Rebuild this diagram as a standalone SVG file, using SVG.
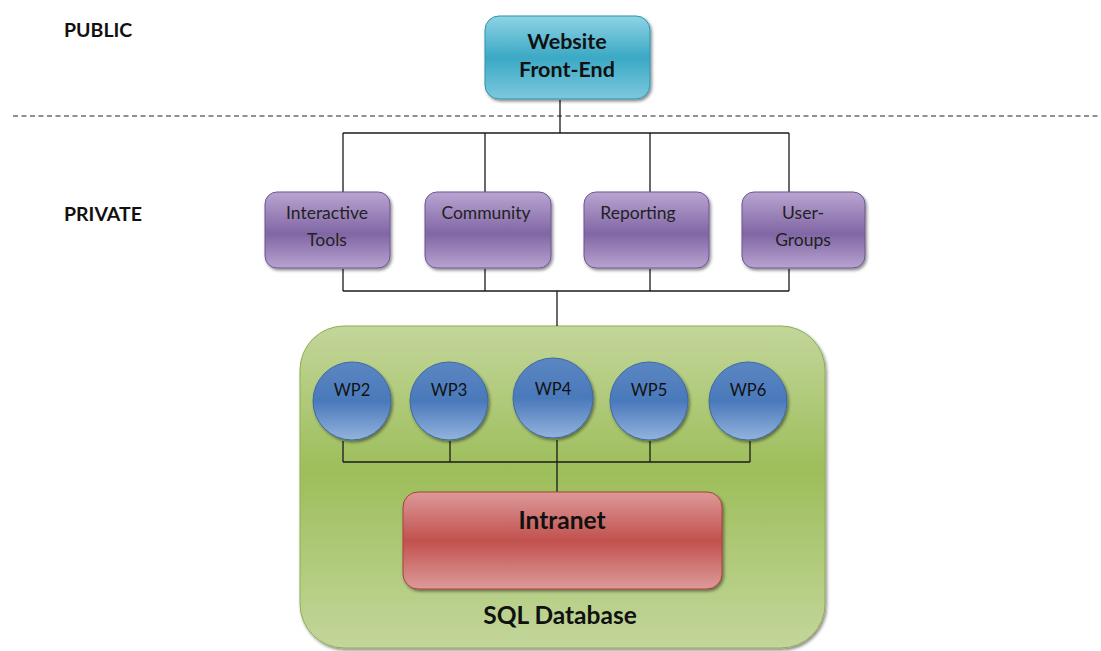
<svg xmlns="http://www.w3.org/2000/svg" width="1101" height="651" viewBox="0 0 1101 651">
  <defs>
    <linearGradient id="gCyan" x1="0" y1="0" x2="0" y2="1">
      <stop offset="0" stop-color="#8fd3e4"/>
      <stop offset="0.5" stop-color="#3ba9c5"/>
      <stop offset="1" stop-color="#7cc8dc"/>
    </linearGradient>
    <linearGradient id="gPurple" x1="0" y1="0" x2="0" y2="1">
      <stop offset="0" stop-color="#b9a5d1"/>
      <stop offset="0.55" stop-color="#8166a5"/>
      <stop offset="1" stop-color="#b7a3cf"/>
    </linearGradient>
    <linearGradient id="gBlue" x1="0" y1="0" x2="0" y2="1">
      <stop offset="0" stop-color="#5b86c2"/>
      <stop offset="0.5" stop-color="#4a79bb"/>
      <stop offset="1" stop-color="#93b3dd"/>
    </linearGradient>
    <linearGradient id="gRed" x1="0" y1="0" x2="0" y2="1">
      <stop offset="0" stop-color="#dc9a98"/>
      <stop offset="0.5" stop-color="#c2514e"/>
      <stop offset="1" stop-color="#dc9b99"/>
    </linearGradient>
    <linearGradient id="gGreen" x1="0" y1="0" x2="0" y2="1">
      <stop offset="0" stop-color="#c3d69b"/>
      <stop offset="0.45" stop-color="#9dbe5a"/>
      <stop offset="1" stop-color="#c3d69b"/>
    </linearGradient>
    <filter id="shadow" x="-10%" y="-10%" width="125%" height="130%">
      <feDropShadow dx="1.5" dy="2" stdDeviation="1.5" flood-color="#000" flood-opacity="0.45"/>
    </filter>
  </defs>
  <style>
    .lbl { font-family: Lato, "Open Sans", sans-serif; fill: #111; text-anchor: middle; }
    .zone { font-family: Lato, "Open Sans", sans-serif; font-weight: bold; font-size: 19.5px; fill: #111; }
    .box-p { font-size: 17.5px; fill: #222; }
    .wp { font-size: 16.5px; }
    .big { font-size: 24.5px; font-weight: bold; }
    .conn { stroke: #1a1a1a; stroke-width: 1.3; fill: none; }
  </style>

  <rect width="1101" height="651" fill="#ffffff"/>

  <!-- zone labels and boundary -->
  <text class="zone" x="64" y="37">PUBLIC</text>
  <text class="zone" x="64" y="221">PRIVATE</text>
  <line x1="13" y1="116" x2="1101" y2="116" stroke="#222" stroke-width="1.2" stroke-dasharray="5,3.5"/>

  <!-- database container -->
  <g id="sql-database">
    <rect x="300" y="326" width="525" height="322" rx="44" fill="url(#gGreen)" stroke="#8fae4f" stroke-width="1" filter="url(#shadow)"/>
    <text class="lbl big" x="560" y="624">SQL Database</text>
  </g>

  <!-- connectors -->
  <g id="connectors" class="conn">
    <line x1="560" y1="100" x2="560" y2="133"/>
    <line x1="343" y1="133" x2="789" y2="133"/>
    <line x1="343" y1="133" x2="343" y2="192"/>
    <line x1="485" y1="133" x2="485" y2="192"/>
    <line x1="650" y1="133" x2="650" y2="192"/>
    <line x1="789" y1="133" x2="789" y2="192"/>
    <line x1="343" y1="269" x2="343" y2="291"/>
    <line x1="485" y1="269" x2="485" y2="291"/>
    <line x1="650" y1="269" x2="650" y2="291"/>
    <line x1="789" y1="269" x2="789" y2="291"/>
    <line x1="343" y1="291" x2="789" y2="291"/>
    <line x1="557" y1="291" x2="557" y2="326"/>
    <line x1="343" y1="441" x2="343" y2="462"/>
    <line x1="450" y1="441" x2="450" y2="462"/>
    <line x1="650" y1="441" x2="650" y2="462"/>
    <line x1="750" y1="441" x2="750" y2="462"/>
    <line x1="343" y1="462" x2="750" y2="462"/>
    <line x1="557" y1="440" x2="557" y2="492"/>
  </g>

  <g id="website-front-end">
    <rect x="485" y="16" width="165" height="83" rx="14" fill="url(#gCyan)" stroke="#2f93ad" stroke-width="1" filter="url(#shadow)"/>
    <text class="lbl" x="567" y="49" font-size="21.5" font-weight="bold">Website</text>
    <text class="lbl" x="567" y="77" font-size="21.5" font-weight="bold">Front-End</text>
  </g>

  <g id="interactive-tools">
    <rect x="265" y="192" width="125" height="76" rx="12" fill="url(#gPurple)" stroke="#6e5494" stroke-width="1" filter="url(#shadow)"/>
    <text class="lbl box-p" x="327" y="219">Interactive</text>
    <text class="lbl box-p" x="327" y="246">Tools</text>
  </g>
  <g id="community">
    <rect x="425" y="192" width="126" height="76" rx="12" fill="url(#gPurple)" stroke="#6e5494" stroke-width="1" filter="url(#shadow)"/>
    <text class="lbl box-p" x="486" y="219">Community</text>
  </g>
  <g id="reporting">
    <rect x="584" y="192" width="125" height="76" rx="12" fill="url(#gPurple)" stroke="#6e5494" stroke-width="1" filter="url(#shadow)"/>
    <text class="lbl box-p" x="638" y="219">Reporting</text>
  </g>
  <g id="user-groups">
    <rect x="742" y="192" width="123" height="76" rx="12" fill="url(#gPurple)" stroke="#6e5494" stroke-width="1" filter="url(#shadow)"/>
    <text class="lbl box-p" x="803" y="219">User-</text>
    <text class="lbl box-p" x="803" y="246">Groups</text>
  </g>

  <g id="wp2">
    <circle cx="352" cy="401" r="39" fill="url(#gBlue)" stroke="#3e6aa3" stroke-width="1" filter="url(#shadow)"/>
    <text class="lbl wp" x="352" y="396">WP2</text>
  </g>
  <g id="wp3">
    <circle cx="449" cy="401" r="39" fill="url(#gBlue)" stroke="#3e6aa3" stroke-width="1" filter="url(#shadow)"/>
    <text class="lbl wp" x="449" y="396">WP3</text>
  </g>
  <g id="wp4">
    <circle cx="553" cy="398" r="40" fill="url(#gBlue)" stroke="#3e6aa3" stroke-width="1" filter="url(#shadow)"/>
    <text class="lbl wp" x="553" y="395">WP4</text>
  </g>
  <g id="wp5">
    <circle cx="649" cy="401" r="39" fill="url(#gBlue)" stroke="#3e6aa3" stroke-width="1" filter="url(#shadow)"/>
    <text class="lbl wp" x="649" y="396">WP5</text>
  </g>
  <g id="wp6">
    <circle cx="748" cy="401" r="39" fill="url(#gBlue)" stroke="#3e6aa3" stroke-width="1" filter="url(#shadow)"/>
    <text class="lbl wp" x="748" y="396">WP6</text>
  </g>

  <g id="intranet">
    <rect x="403" y="492" width="319" height="97" rx="15" fill="url(#gRed)" stroke="#a8413e" stroke-width="1" filter="url(#shadow)"/>
    <text class="lbl big" x="562" y="529">Intranet</text>
  </g>
</svg>
